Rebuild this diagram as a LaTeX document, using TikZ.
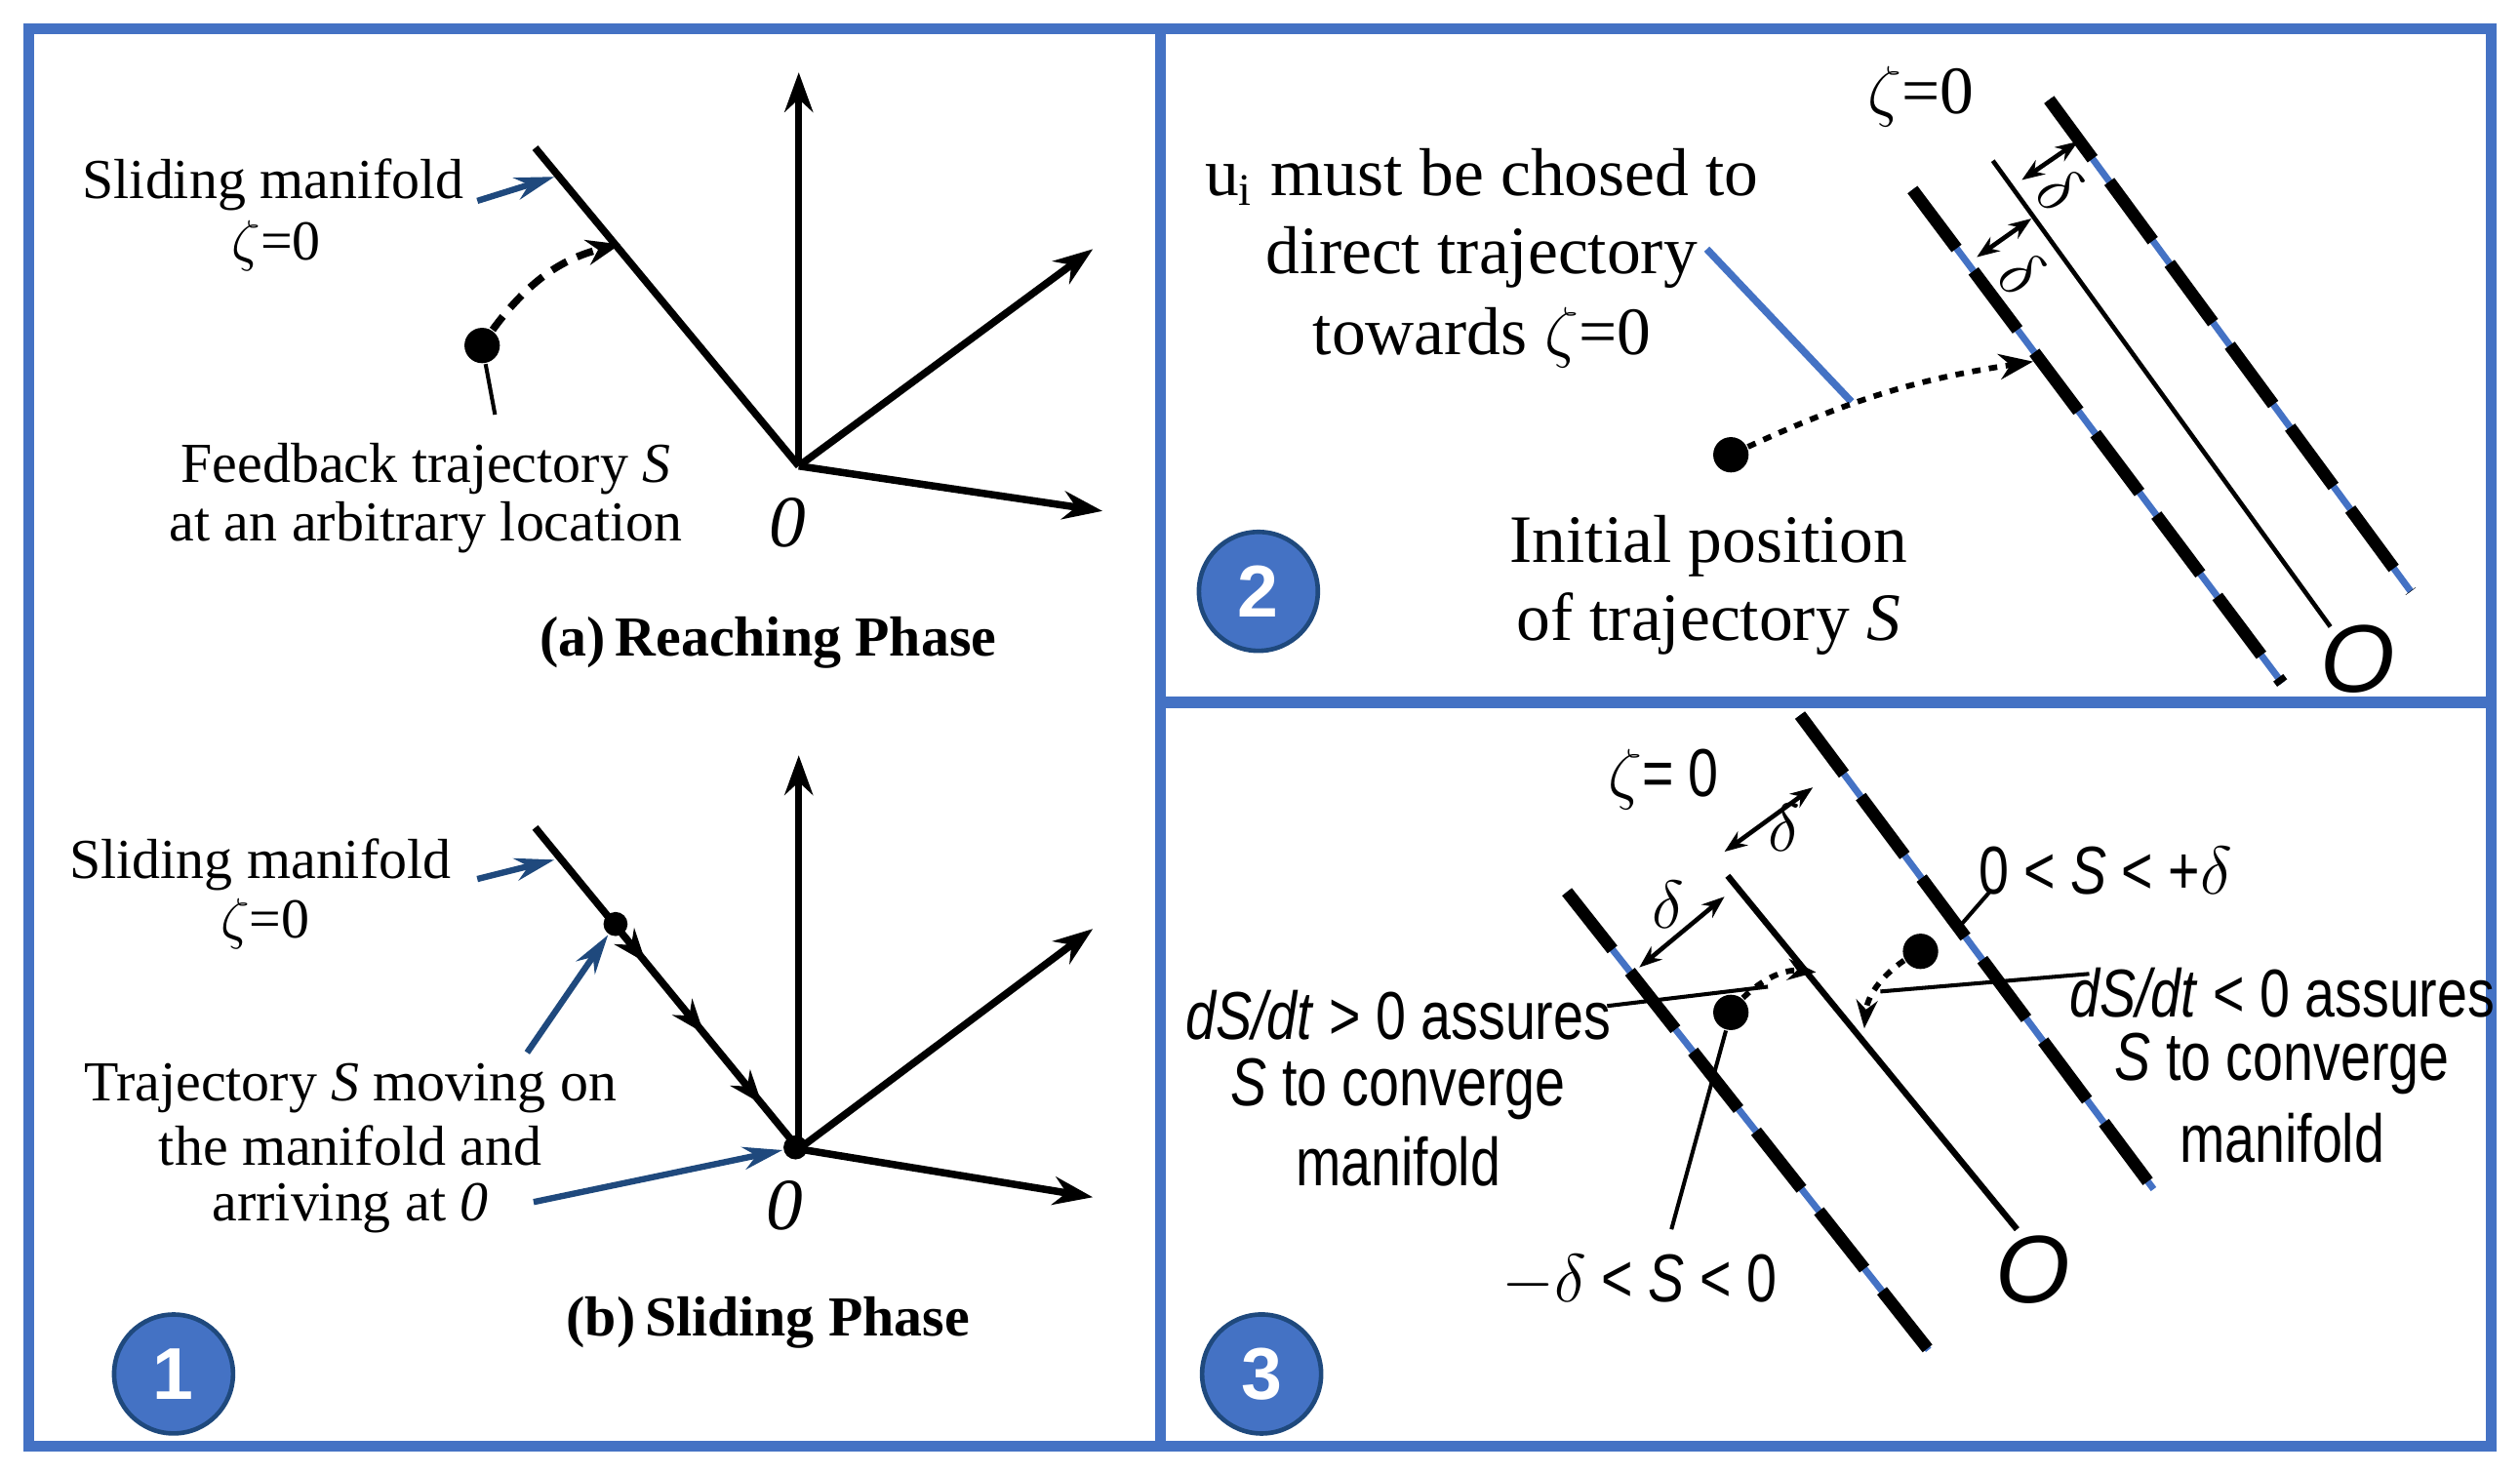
\documentclass[tikz,border=0pt]{standalone}
\usepackage{fontspec}
\setmainfont{Liberation Serif}
\newfontfamily\sansf{Liberation Sans}[FakeStretch=0.8]
\newfontfamily\sansw{Liberation Sans}
\usetikzlibrary{arrows.meta,calc}
\definecolor{bl}{RGB}{68,114,196}
\definecolor{dbl}{RGB}{31,73,125}
\begin{document}
\begin{tikzpicture}[x=0.1mm,y=-0.1mm,
 ax/.style={line width=1.3pt,-{Stealth[length=7pt,width=5pt]}},
 man/.style={line width=1.3pt},
 barr/.style={dbl,line width=1.1pt,-{Stealth[length=7pt,width=4pt]}},
 ptr/.style={line width=0.7pt},
 dl/.style={line width=2.2pt,dash pattern=on 13pt off 5pt},
 txt/.style={font=\fontsize{10}{12}\selectfont,inner sep=0pt},
 txt2/.style={font=\fontsize{12}{14}\selectfont,inner sep=0pt},
 txt3/.style={font=\sansf\fontsize{12}{13}\selectfont,inner sep=0pt},
 num/.style={circle,fill=bl,draw=dbl,line width=0.8pt,minimum size=7.4mm,text=white,font=\sansw\fontsize{13}{14}\selectfont\bfseries},
 dlt/.style={line width=0.8pt,{Stealth[length=4pt,width=3pt]}-{Stealth[length=4pt,width=3pt]}},
 dot/.style={circle,fill=black,inner sep=0pt,minimum size=2.2mm}]
\useasboundingbox (0,0) rectangle (1568,917);
\draw[bl,line width=2pt] (18,18) rectangle (1550,900);
\draw[bl,line width=2pt] (722,18) -- (722,900) (722,437) -- (1550,437);
% Panel a
\coordinate (oa) at (497,290);
\coordinate (ta) at (497,45);
\coordinate (ra) at (680,155);
\coordinate (la) at (686,318);
\coordinate (ma) at (333,92);
\draw[ax] (oa) -- (ta);
\draw[ax] (oa) -- (ra);
\draw[ax] (oa) -- (la);
\draw[man] (ma) -- (oa);
\node[dot] (sa) at (300,215) {};
\coordinate (ea) at (386,152);
\draw[line width=1.3pt,dash pattern=on 3pt off 2pt,-{Stealth[length=6pt]}] (sa) to[bend left=20] (ea);
\coordinate (pa) at (308,258);
\draw[ptr] (sa) -- (pa);
\node[txt] (sm1) at (170,115) {Sliding manifold};
\node[txt] (z1) at (172,153) {$\zeta$=0};
\coordinate (a1s) at (297,125); \coordinate (a1e) at (345,110);
\draw[barr] (a1s) -- (a1e);
\node[txt] (fb) at (265,292) {Feedback trajectory \textit{S}};
\node[txt] (fb2) at (265,328) {at an arbitrary location};
\node[txt2,font=\itshape\fontsize{13}{14}\selectfont] (o1) at (490,325) {0};
\node[txt,font=\bfseries\fontsize{10}{12}\selectfont] (ca) at (478,400) {(a)\,Reaching Phase};
% Panel b
\coordinate (ob) at (497,715);
\coordinate (tb) at (497,470);
\coordinate (rb) at (680,578);
\coordinate (lb) at (680,745);
\coordinate (mb) at (333,515);
\draw[ax] (ob) -- (tb);
\draw[ax] (ob) -- (rb);
\draw[ax] (ob) -- (lb);
\draw[man] (mb) -- (ob);
\foreach \t in {0.42,0.64,0.86}{\draw[line width=1.3pt,-{Stealth[length=6pt]}] ($(mb)!\t-0.05!(ob)$) -- ($(mb)!\t!(ob)$);}
\node[dot,minimum size=1.5mm] (db) at (383,575) {};
\node[dot,minimum size=1.5mm] (db2) at (495,714) {};
\node[txt] (sm2) at (162,538) {Sliding manifold};
\node[txt] (z2) at (165,575) {$\zeta$=0};
\coordinate (b1s) at (297,547); \coordinate (b1e) at (345,535);
\draw[barr] (b1s) -- (b1e);
\coordinate (b2s) at (328,655);
\draw[barr] (b2s) -- (db);
\coordinate (b3s) at (332,748);
\draw[barr] (b3s) -- (db2);
\node[txt] (tr1) at (218,677) {Trajectory \textit{S} moving on};
\node[txt] (tr2) at (218,713) {the manifold and};
\node[txt] (tr3) at (218,752) {arriving at \textit{0}};
\node[txt2,font=\itshape\fontsize{13}{14}\selectfont] (o2) at (488,750) {0};
\node[txt,font=\bfseries\fontsize{10}{12}\selectfont] (cb) at (478,823) {(b)\,Sliding Phase};
\node[num] (n1) at (108,855) {1};
% Panel 2
\coordinate (m2a) at (1240,100); \coordinate (m2b) at (1450,390);
\draw[line width=0.8pt] (m2a) -- (m2b);
\coordinate (l2a) at (1190,118); \coordinate (l2b) at (1420,425);
\coordinate (r2a) at (1275,62); \coordinate (r2b) at (1500,368);
\draw[bl,line width=1.2pt] (l2a) -- (l2b) (r2a) -- (r2b);
\draw[dl] (l2a) -- (l2b) (r2a) -- (r2b);
\coordinate (d1a) at (1258,112); \coordinate (d1b) at (1293,88);
\draw[dlt] (d1a) -- (d1b);
\node[txt2,rotate=-40] (dl1) at (1282,118) {$\delta$};
\coordinate (d2a) at (1230,160); \coordinate (d2b) at (1264,136);
\draw[dlt] (d2a) -- (d2b);
\node[txt2,rotate=-40] (dl2) at (1258,170) {$\delta$};
\node[txt2] (z3) at (1195,60) {$\zeta$=0};
\node[txt2] (u1) at (922,110) {u\textsubscript{i} must be chosed to};
\node[txt2] (u2) at (922,160) {direct trajectory};
\node[txt2] (u3) at (922,210) {towards $\zeta$=0};
\coordinate (u2s) at (1062,155); \coordinate (u2e) at (1152,250);
\draw[bl,line width=1.3pt] (u2s) -- (u2e);
\node[dot] (s2) at (1077,283) {};
\coordinate (e2) at (1265,225);
\draw[line width=1pt,dash pattern=on 1.5pt off 1.5pt,-{Stealth[length=6pt]}] (s2) to[bend left=8] (e2);
\node[txt2] (ip1) at (1063,340) {Initial position};
\node[txt2] (ip2) at (1063,388) {of trajectory \textit{S}};
\node[txt3,font=\sansw\itshape\fontsize{17}{18}\selectfont] (o3) at (1467,410) {O};
\node[num] (n2) at (783,368) {2};
% Panel 3
\coordinate (m3a) at (1075,545); \coordinate (m3b) at (1255,765);
\draw[line width=1.1pt] (m3a) -- (m3b);
\coordinate (l3a) at (975,555); \coordinate (l3b) at (1200,840);
\coordinate (r3a) at (1120,445); \coordinate (r3b) at (1340,740);
\draw[bl,line width=1.2pt] (l3a) -- (l3b) (r3a) -- (r3b);
\draw[dl] (l3a) -- (l3b) (r3a) -- (r3b);
\coordinate (d3a) at (1073,530); \coordinate (d3b) at (1128,490);
\draw[dlt] (d3a) -- (d3b);
\node[txt3] (dl3) at (1110,515) {$\delta$};
\coordinate (d4a) at (1020,602); \coordinate (d4b) at (1073,558);
\draw[dlt] (d4a) -- (d4b);
\node[txt3] (dl4) at (1038,563) {$\delta$};
\node[txt3] (z4) at (1035,485) {$\zeta$= 0};
\node[txt3] (p1) at (1310,542) {0 < \textit{S} < +$\delta$};
\coordinate (p1s) at (1238,555); \coordinate (p1e) at (1218,578);
\draw[ptr] (p1s) -- (p1e);
\node[dot] (s3r) at (1195,592) {};
\coordinate (e3r) at (1160,640);
\draw[line width=1pt,dash pattern=on 1.5pt off 1.5pt,-{Stealth[length=5pt]}] (s3r) to[bend right=25] (e3r);
\coordinate (q1s) at (1170,617); \coordinate (q1e) at (1300,606);
\draw[ptr] (q1s) -- (q1e);
\node[txt3] (r1) at (1420,618) {\textit{dS/dt} < 0 assures};
\node[txt3] (r2) at (1420,662) {\textit{S} to converge};
\node[txt3] (r3) at (1420,708) {manifold};
\node[dot] (s3l) at (1077,630) {};
\coordinate (e3l) at (1130,605);
\draw[line width=1pt,dash pattern=on 1.5pt off 1.5pt,-{Stealth[length=5pt]}] (s3l) to[bend left=25] (e3l);
\coordinate (q2s) at (1000,626); \coordinate (q2e) at (1100,614);
\draw[ptr] (q2s) -- (q2e);
\node[txt3] (lt1) at (870,632) {\textit{dS/dt} > 0 assures};
\node[txt3] (lt2) at (870,678) {\textit{S} to converge};
\node[txt3] (lt3) at (870,723) {manifold};
\coordinate (q3e) at (1040,765);
\draw[ptr] (s3l) -- (q3e);
\node[txt3] (ng) at (1020,797) {$-\delta$ < \textit{S} < 0};
\node[txt3,font=\sansw\itshape\fontsize{17}{18}\selectfont] (o4) at (1265,790) {O};
\node[num] (n3) at (785,855) {3};
\end{tikzpicture}
\end{document}
